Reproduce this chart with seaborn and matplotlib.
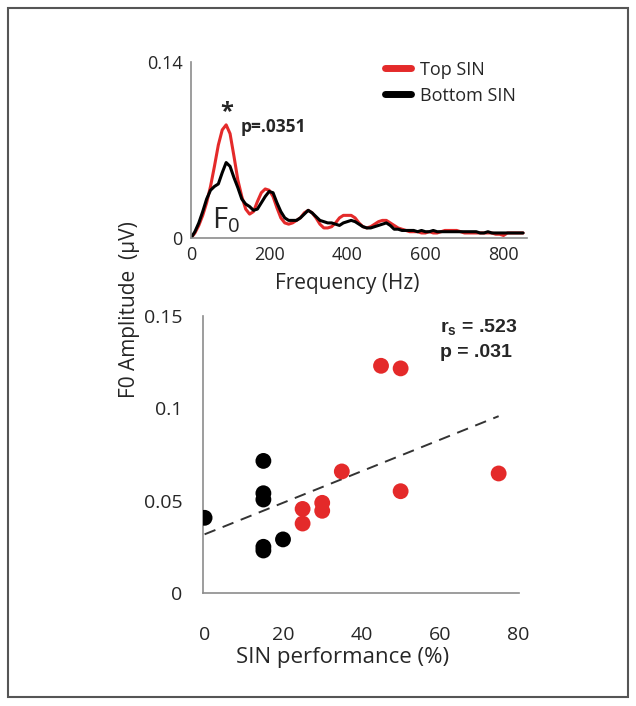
import numpy as np
import pandas as pd
import matplotlib
matplotlib.use("Agg")
import matplotlib.pyplot as plt
import seaborn as sns
from matplotlib.patches import Rectangle

# Espectro: frequencia (Hz) e amplitude das duas curvas
freq = list(range(0, 860, 10))
top_sin = [0, 0.004, 0.010, 0.018, 0.028, 0.041, 0.057, 0.074, 0.086, 0.090,
           0.083, 0.065, 0.046, 0.033, 0.023, 0.019, 0.021, 0.029, 0.036, 0.039,
           0.038, 0.033, 0.024, 0.016, 0.012, 0.011, 0.012, 0.014, 0.016, 0.020,
           0.022, 0.020, 0.016, 0.011, 0.008, 0.008, 0.009, 0.012, 0.016, 0.018,
           0.018, 0.018, 0.016, 0.012, 0.009, 0.008, 0.009, 0.011, 0.013, 0.014,
           0.014, 0.012, 0.010, 0.008, 0.007, 0.006, 0.005, 0.005, 0.005, 0.004,
           0.004, 0.005, 0.004, 0.004, 0.005, 0.006, 0.006, 0.006, 0.006, 0.005,
           0.004, 0.004, 0.004, 0.004, 0.004, 0.004, 0.004, 0.004, 0.003, 0.003,
           0.002, 0.004, 0.004, 0.004, 0.004, 0.004]
bottom_sin = [0, 0.005, 0.012, 0.021, 0.031, 0.038, 0.041, 0.043, 0.052, 0.060,
              0.057, 0.048, 0.040, 0.031, 0.027, 0.025, 0.022, 0.023, 0.028, 0.033,
              0.037, 0.036, 0.028, 0.021, 0.016, 0.014, 0.014, 0.014, 0.016, 0.019,
              0.022, 0.020, 0.017, 0.014, 0.013, 0.012, 0.012, 0.011, 0.010, 0.012,
              0.013, 0.014, 0.013, 0.011, 0.009, 0.008, 0.008, 0.009, 0.010, 0.011,
              0.012, 0.010, 0.007, 0.007, 0.006, 0.006, 0.006, 0.006, 0.005, 0.006,
              0.005, 0.005, 0.006, 0.005, 0.005, 0.005, 0.005, 0.005, 0.005, 0.005,
              0.005, 0.005, 0.005, 0.005, 0.004, 0.004, 0.005, 0.004, 0.004, 0.004,
              0.004, 0.004, 0.004, 0.004, 0.004, 0.004]

# Dispersao: desempenho SIN (%) x amplitude F0 (uV)
perf_bottom = [0, 15, 15, 15, 15, 15, 20]
amp_bottom = [0.0407, 0.0715, 0.054, 0.0506, 0.025, 0.023, 0.029]
perf_top = [45, 50, 35, 75, 50, 30, 30, 25, 25]
amp_top = [0.123, 0.1216, 0.0658, 0.0647, 0.0551, 0.0488, 0.0445, 0.0455, 0.0376]

vermelho = "#e42a2a"
cinza = "#8c8c8c"

sns.set_style("white")
plt.rcParams["font.family"] = ["Open Sans", "DejaVu Sans"]
plt.rcParams["mathtext.fontset"] = "custom"

fig = plt.figure(figsize=(6.36, 7.06), dpi=100)

# ---------- Espectro ----------
ax1 = fig.add_axes([0.3003, 0.6629, 0.5283, 0.2493])
df_esp = pd.DataFrame({"freq": freq, "top": top_sin, "bottom": bottom_sin})
sns.lineplot(data=df_esp, x="freq", y="top", color=vermelho, lw=2.2, ax=ax1, label="Top SIN")
sns.lineplot(data=df_esp, x="freq", y="bottom", color="black", lw=2.2, ax=ax1, label="Bottom SIN")
ax1.set_xlim(0, 860)
ax1.set_ylim(0, 0.14)
ax1.set_yticks([0, 0.14])
ax1.set_yticklabels(["0", "0.14"])
ax1.set_xticks([0, 200, 400, 600, 800])
ax1.set_xlabel("Frequency (Hz)", fontsize=15)
ax1.xaxis.set_label_coords(0.464, -0.2)
ax1.set_ylabel("")
ax1.tick_params(labelsize=13, length=3, color=cinza, pad=3)
for s in ["top", "right"]:
    ax1.spines[s].set_visible(False)
for s in ["left", "bottom"]:
    ax1.spines[s].set_color(cinza)
    ax1.spines[s].set_linewidth(1.2)
leg = ax1.legend(loc="upper left", bbox_to_anchor=(0.53, 1.1), frameon=False,
                 fontsize=13, handlelength=1.4, handletextpad=0.5, labelspacing=0.45)
for h in leg.get_lines():
    h.set_linewidth(5)
ax1.text(92, 0.0905, "*", fontsize=17, fontweight="bold", ha="center", va="bottom")
ax1.text(127, 0.0885, "p=.0351", fontsize=12.5, fontweight="bold", ha="left", va="center")
ax1.text(55, 0.014, r"F$_\mathregular{0}$", fontsize=21, ha="left", va="center")

# ---------- Dispersao ----------
ax2 = fig.add_axes([0.3192, 0.1601, 0.4969, 0.3924])
df_disp = pd.DataFrame({
    "perf": perf_bottom + perf_top,
    "amp": amp_bottom + amp_top,
    "grupo": ["Bottom"] * len(perf_bottom) + ["Top"] * len(perf_top),
})
sns.regplot(data=df_disp, x="perf", y="amp", scatter=False, ci=None, ax=ax2,
            line_kws={"color": "#333333", "lw": 1.4, "dashes": (6, 4)})
sns.scatterplot(data=df_disp, x="perf", y="amp", hue="grupo",
                palette={"Bottom": "black", "Top": vermelho},
                s=130, edgecolor="none", legend=False, ax=ax2, zorder=3)
ax2.set_xlim(-0.4, 80.2)
ax2.set_ylim(0, 0.15)
ax2.set_yticks([0, 0.05, 0.1, 0.15])
ax2.set_yticklabels(["0", "0.05", "0.1", "0.15"])
ax2.set_xticks([0, 20, 40, 60, 80])
ax2.tick_params(axis="y", labelsize=14, length=5, color=cinza, pad=10, direction="out")
ax2.tick_params(axis="x", labelsize=14, length=5, color=cinza, pad=24, direction="in")
ax2.set_xlabel("SIN performance (%)", fontsize=16)
ax2.xaxis.set_label_coords(0.443, -0.195)
ax2.set_ylabel("")
for s in ["top", "right"]:
    ax2.spines[s].set_visible(False)
for s in ["left", "bottom"]:
    ax2.spines[s].set_color(cinza)
    ax2.spines[s].set_linewidth(1.2)
ax2.text(0.75, 0.995, r"r$_\mathregular{s}$ = .523", transform=ax2.transAxes,
         fontsize=14, fontweight="bold", family="Liberation Sans", ha="left", va="top")
ax2.text(0.75, 0.9, "p = .031", transform=ax2.transAxes,
         fontsize=14, fontweight="bold", family="Liberation Sans", ha="left", va="top")

fig.text(130 / 636, 1 - 310 / 706, "F0 Amplitude  (µV)", rotation=90,
         ha="center", va="center", fontsize=15)

# moldura
fig.patches.append(Rectangle((0.0126, 0.0127), 0.975, 0.976, transform=fig.transFigure,
                             fill=False, edgecolor="#555555", lw=1.5))

fig.savefig("out.png", dpi=100)
